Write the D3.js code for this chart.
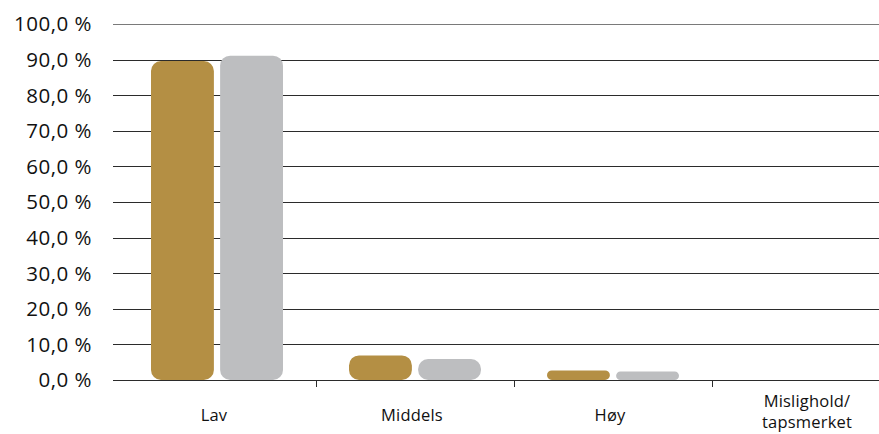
<!DOCTYPE html>
<html>
<head>
<meta charset="utf-8">
<script src="https://cdn.jsdelivr.net/npm/d3@7"></script>
<style>
  html, body { margin: 0; padding: 0; background: #fff; }
  svg { display: block; }
  text { font-family: "Open Sans", Lato, sans-serif; fill: #111; }
</style>
</head>
<body>
<svg id="chart" width="879" height="434"></svg>
<script>
// Risk classes and share of exposure per class (two periods)
const categories = ["Lav", "Middels", "Høy", "Mislighold/tapsmerket"];
const categoryLines = [["Lav"], ["Middels"], ["Høy"], ["Mislighold/", "tapsmerket"]];
const seriesA = [89.6, 6.9, 2.7, 0.0];
const seriesB = [91.1, 5.9, 2.4, 0.0];
const yTicks = [0, 10, 20, 30, 40, 50, 60, 70, 80, 90, 100];
const colors = ["#B48F44", "#BDBEC0"];

const svg = d3.select("#chart");
const plotLeft = 113, plotRight = 879;
const y = d3.scaleLinear().domain([0, 100]).range([380, 24]);
const x = d3.scaleBand().domain(categories).range([118, 910]).paddingInner(0).paddingOuter(0);
const inner = d3.scaleBand().domain([0, 1]).range([33, 165]).paddingInner(0.09);

const fmt = v => d3.format(".1f")(v).replace(".", ",") + " %";

// horizontal gridlines
svg.append("g").selectAll("line").data(yTicks).join("line")
  .attr("x1", plotLeft).attr("x2", plotRight)
  .attr("y1", d => Math.round(y(d)) + 0.5).attr("y2", d => Math.round(y(d)) + 0.5)
  .attr("stroke", d => d === 100 ? "#7a7a7a" : "#2b2b2b")
  .attr("stroke-width", 1);

// y tick labels
svg.append("g").selectAll("text").data(yTicks).join("text")
  .attr("x", 92).attr("y", d => y(d))
  .attr("dy", "0.36em")
  .attr("text-anchor", "end")
  .style("font-size", "20.5px")
  .style("letter-spacing", "0.5px")
  .text(fmt);

// category separator ticks under the baseline
svg.append("g").selectAll("line").data(categories.slice(1)).join("line")
  .attr("x1", d => Math.round(x(d)) + 0.5).attr("x2", d => Math.round(x(d)) + 0.5)
  .attr("y1", 380).attr("y2", 387)
  .attr("stroke", "#2b2b2b");

// rounded bar path (all four corners rounded)
function roundedBar(x0, w, v) {
  const top = y(v), bottom = y(0);
  const h = bottom - top;
  if (h <= 0) return "";
  const r = Math.min(10, h / 2, w / 2);
  return `M${x0 + r},${top}H${x0 + w - r}A${r},${r} 0 0 1 ${x0 + w},${top + r}` +
    `V${bottom - r}A${r},${r} 0 0 1 ${x0 + w - r},${bottom}` +
    `H${x0 + r}A${r},${r} 0 0 1 ${x0},${bottom - r}` +
    `V${top + r}A${r},${r} 0 0 1 ${x0 + r},${top}Z`;
}

const series = [seriesA, seriesB];
series.forEach((vals, si) => {
  svg.append("g").selectAll("path").data(categories).join("path")
    .attr("d", (c, i) => roundedBar(x(c) + inner(si), inner.bandwidth(), vals[i]))
    .attr("fill", colors[si]);
});

// category labels
const lbl = svg.append("g").selectAll("text").data(categories).join("text")
  .attr("text-anchor", "middle")
  .style("font-size", "16.5px")
  .style("letter-spacing", "0.2px");
lbl.each(function(c, i) {
  const lines = categoryLines[i];
  const cx = i === 3 ? 807 : x(c) + x.bandwidth() / 2 - 3;
  const t = d3.select(this);
  if (lines.length === 1) {
    t.append("tspan").attr("x", cx).attr("y", 421).text(lines[0]);
  } else {
    t.append("tspan").attr("x", cx).attr("y", 407).text(lines[0]);
    t.append("tspan").attr("x", cx).attr("y", 428).text(lines[1]);
  }
});
</script>
</body>
</html>
